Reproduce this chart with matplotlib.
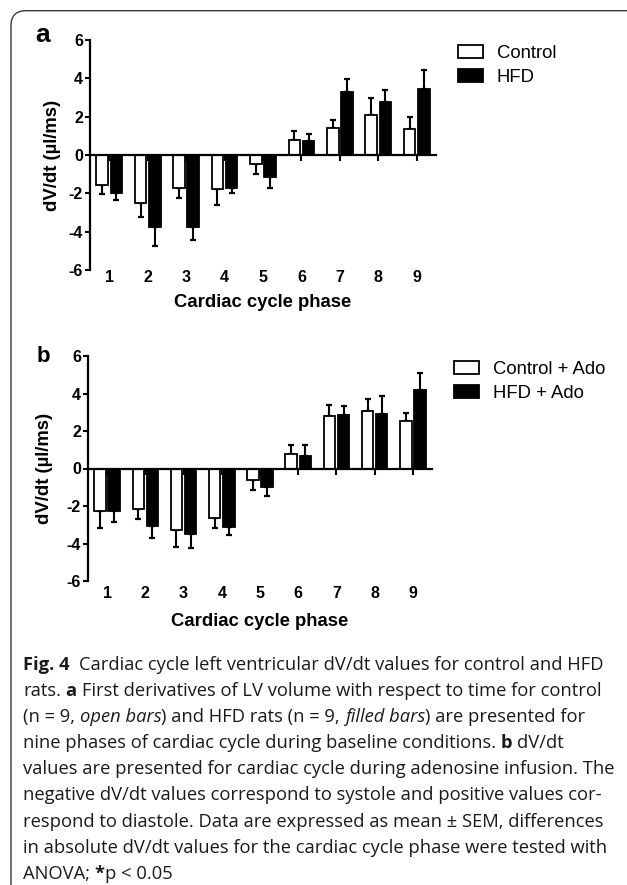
import matplotlib
matplotlib.use('Agg')
import matplotlib.pyplot as plt
import numpy as np
from matplotlib.patches import FancyBboxPatch

# ---------------- data ----------------
phases = ['1', '2', '3', '4', '5', '6', '7', '8', '9']
yticks = [-6, -4, -2, 0, 2, 4, 6]

ctrl_base = [-1.55, -2.50, -1.73, -1.76, -0.47, 0.78, 1.43, 2.07, 1.35]
ctrl_base_sem = [0.47, 0.73, 0.50, 0.87, 0.51, 0.48, 0.38, 0.92, 0.65]
hfd_base = [-1.97, -3.78, -3.78, -1.73, -1.16, 0.71, 3.30, 2.78, 3.42]
hfd_base_sem = [0.40, 0.95, 0.66, 0.26, 0.57, 0.41, 0.64, 0.61, 1.04]

ctrl_ado = [-2.28, -2.15, -3.29, -2.63, -0.59, 0.75, 2.79, 3.09, 2.56]
ctrl_ado_sem = [0.90, 0.52, 0.90, 0.52, 0.58, 0.48, 0.59, 0.63, 0.41]
hfd_ado = [-2.28, -3.04, -3.48, -3.13, -1.00, 0.69, 2.86, 2.92, 4.21]
hfd_ado_sem = [0.57, 0.66, 0.75, 0.43, 0.48, 0.54, 0.50, 0.94, 0.86]

labels_a = ['Control', 'HFD']
labels_b = ['Control + Ado', 'HFD + Ado']
ylabel = 'dV/dt (µl/ms)'
xlabel = 'Cardiac cycle phase'

caption = [
    [("Fig. 4", 'b'), ("  Cardiac cycle left ventricular dV/dt values for control and HFD", 'n')],
    [("rats. ", 'n'), ("a", 'b'), (" First derivatives of LV volume with respect to time for control", 'n')],
    [("(n = 9, ", 'n'), ("open bars", 'i'), (") and HFD rats (n = 9, ", 'n'), ("filled bars", 'i'),
     (") are presented for", 'n')],
    [("nine phases of cardiac cycle during baseline conditions. ", 'n'), ("b", 'b'), (" dV/dt", 'n')],
    [("values are presented for cardiac cycle during adenosine infusion. The", 'n')],
    [("negative dV/dt values correspond to systole and positive values cor-", 'n')],
    [("respond to diastole. Data are expressed as mean ± SEM, differences", 'n')],
    [("in absolute dV/dt values for the cardiac cycle phase were tested with", 'n')],
    [("ANOVA; ", 'n'), ("*", 'b'), ("p < 0.05", 'n')],
]
# right ends of the full caption lines in the reference (used only to fit the font size)
caption_fit = {0: 608, 1: 591, 2: 586, 4: 608, 5: 604, 6: 599, 7: 606}

# ---------------- figure ----------------
W, H = 627, 885
DPI = 100
fig = plt.figure(figsize=(W / DPI, H / DPI), dpi=DPI)
fig.patch.set_facecolor('white')
plt.rcParams['font.family'] = ['Liberation Sans', 'DejaVu Sans']

# rounded frame (top-left corner visible)
frame = FancyBboxPatch((0.11, -0.5), 7.0, 8.85 - 0.107 + 0.5,
                       boxstyle="round,pad=0,rounding_size=0.15",
                       transform=fig.dpi_scale_trans, fill=False,
                       edgecolor='#3a3a3a', linewidth=1.0, zorder=0)
fig.patches.append(frame)


def px_rect(l, t, r, b):
    return [l / W, 1 - b / H, (r - l) / W, (b - t) / H]


def panel(rect, ctrl, csem, hfd, hsem, leg_labels, ylab_x, catpad, xlab_y,
          leg_anchor, letter, letter_pos, letter_size):
    ax = fig.add_axes(rect)
    x = np.arange(1, len(phases) + 1)
    w, off = 0.30, 0.185
    ax.bar(x - off, ctrl, w, color='white', edgecolor='black', linewidth=1.3,
           label=leg_labels[0], zorder=2)
    ax.bar(x + off, hfd, w, color='black', edgecolor='black', linewidth=1.3,
           label=leg_labels[1], zorder=2)
    for xs, vals, sems in ((x - off, ctrl, csem), (x + off, hfd, hsem)):
        v = np.asarray(vals)
        s = np.asarray(sems)
        lower = np.where(v < 0, s, 0.0)
        upper = np.where(v > 0, s, 0.0)
        ax.errorbar(xs, v, yerr=[lower, upper], fmt='none', ecolor='black',
                    elinewidth=1.5, capsize=2.4, capthick=1.6, zorder=1)
    ax.set_xlim(0.5, 9.5)
    ax.set_ylim(-6, 6)
    for s in ('top', 'right'):
        ax.spines[s].set_visible(False)
    ax.spines['bottom'].set_position(('data', 0))
    ax.spines['bottom'].set_linewidth(1.6)
    ax.spines['left'].set_linewidth(1.6)
    ax.set_xticks(x)
    ax.tick_params(axis='x', direction='out', length=4.2, width=1.5,
                   labelbottom=False)
    ax.set_yticks(yticks, labels=[str(v) for v in yticks],
                  fontweight='bold', fontsize=11.5)
    ax.tick_params(axis='y', direction='out', length=3.6, width=1.5, pad=1.5)
    ax.patch.set_alpha(0)

    sec = ax.secondary_xaxis(0)
    sec.set_xticks(x, labels=phases, fontweight='bold', fontsize=11.5)
    sec.tick_params(length=0, pad=catpad)
    sec.spines['bottom'].set_visible(False)

    ax.set_ylabel(ylabel, fontweight='bold', fontsize=13.3)
    ax.yaxis.set_label_coords(ylab_x, 0.5)

    pos = ax.get_position()
    fig.text(pos.x0 + pos.width / 2, 1 - xlab_y / H, xlabel,
             fontweight='bold', fontsize=13.3, ha='center', va='center')

    ax.legend(loc='upper left', bbox_to_anchor=(leg_anchor[0] / W, 1 - leg_anchor[1] / H),
              bbox_transform=fig.transFigure, frameon=False, borderpad=0,
              borderaxespad=0, fontsize=13.3, handlelength=1.35,
              handleheight=0.7, handletextpad=0.75, labelspacing=0.38)
    fig.text(letter_pos[0] / W, 1 - letter_pos[1] / H, letter,
             fontweight='bold', fontsize=letter_size, ha='center', va='center')
    return ax


panel(px_rect(90, 40, 436, 270), ctrl_base, ctrl_base_sem, hfd_base, hfd_base_sem,
      labels_a, -0.084, 0.3, 303, (458, 44.5), 'a', (42.5, 35.5), 19)
panel(px_rect(88, 356, 432, 581), ctrl_ado, ctrl_ado_sem, hfd_ado, hfd_ado_sem,
      labels_b, -0.101, 3.6, 621, (454, 360.5), 'b', (43.5, 356), 16)

# ---------------- caption ----------------
renderer = fig.canvas.get_renderer()
CAP_FONT = ['Open Sans', 'DejaVu Sans']


def text_width(s, size, **kw):
    t = fig.text(0, 0, s, fontfamily=CAP_FONT, fontsize=size, **kw)
    wdt = t.get_window_extent(renderer).width
    t.remove()
    return wdt


def space_w(size):
    return text_width('n n', size) - text_width('nn', size)


def draw_line(segs, x0, y_base, size, keep=True):
    xpos = x0
    sw = space_w(size)
    arts = []
    for txt, st in segs:
        lead = len(txt) - len(txt.lstrip(' '))
        trail = len(txt) - len(txt.rstrip(' '))
        core = txt.strip(' ')
        xpos += lead * sw
        kw = dict(fontfamily=CAP_FONT, fontsize=size, va='baseline', ha='left',
                  color='#1a1a1a')
        if st == 'b':
            kw['fontweight'] = 'bold'
        elif st == 'i':
            kw['fontstyle'] = 'italic'
        t = fig.text(xpos / W, 1 - y_base / H, core, **kw)
        bb = t.get_window_extent(renderer)
        xpos = bb.x1 + trail * sw
        arts.append(t)
    if not keep:
        for a in arts:
            a.remove()
    return xpos


X0 = 23
# fit the caption font size to the reference line widths
test_size = 12.0
meas, targ = 0.0, 0.0
for i, right in caption_fit.items():
    meas += draw_line(caption[i], X0, 100, test_size, keep=False) - X0
    targ += right - X0
cap_size = test_size * targ / meas

for i, line in enumerate(caption):
    draw_line(line, X0, 670 + 26.1 * i, cap_size)

fig.savefig('out.png', dpi=DPI, facecolor='white')
